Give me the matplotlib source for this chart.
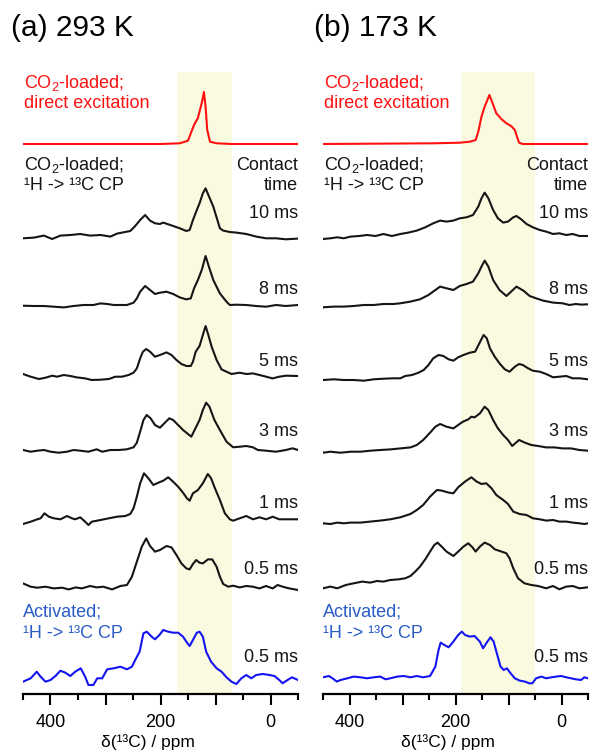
import matplotlib
matplotlib.use('Agg')
import matplotlib.pyplot as plt
import matplotlib.transforms as mtrans

plt.rcParams['font.family'] = ['Liberation Sans', 'DejaVu Sans']
plt.rcParams['mathtext.fontset'] = 'custom'
plt.rcParams['mathtext.rm'] = 'Liberation Sans'
plt.rcParams['mathtext.it'] = 'Liberation Sans:italic'

# ---------------- data: panel (a) 293 K ----------------
a_direct_ppm = [450, 200, 165, 150, 144, 139, 132, 125, 121, 118, 115, 110, 98, 70, -50]
a_direct_int = [0, 0, 0.7, 3.3, 12, 19, 26, 41, 52, 37, 14, 2.3, 0.7, 0, 0]

a_10ms_ppm = [450, 430, 412, 397, 382, 364, 346, 328, 309, 291, 279, 267, 255, 246, 237, 228, 219, 210, 201, 195, 186, 177, 165, 153, 147, 141, 134, 129, 123, 118, 113, 104, 92, 86, 74, 62, 44, 26, 8, -10, -28, -50]
a_10ms_int = [0, 0.7, 2.7, -0.7, 2.7, 3.3, 4.3, 2.7, 3.3, 1.7, 4.7, 6, 7.3, 12.3, 18.3, 23.3, 17.7, 15, 14.3, 15.7, 14, 12.3, 10, 7.3, 8.3, 18.3, 28.3, 35, 45, 50, 43.3, 31.7, 10, 7.7, 6.3, 5.7, 4.3, 1.7, 0, 0, -1, -0.3]

a_8ms_ppm = [450, 430, 412, 394, 376, 358, 340, 322, 309, 297, 285, 273, 261, 249, 243, 237, 228, 219, 210, 201, 189, 177, 165, 153, 145, 139, 132, 125, 118, 112, 104, 92, 80, 74, 62, 44, 26, 8, -10, -28, -50]
a_8ms_int = [0, -0.3, -0.3, -1, -1.7, -0.3, 0.7, 0.7, 2.3, 1.7, 0.7, 0.7, 0.7, 3, 7.3, 14, 19.7, 15.7, 11.7, 13, 14, 11.7, 8.3, 6.3, 7.3, 17.3, 25.7, 35.7, 49.7, 39, 25.7, 12.3, 4, 0.7, 1, 0.7, -0.3, -1, 0.7, -0.3, 0.7]

a_5ms_ppm = [450, 436, 421, 409, 397, 388, 376, 364, 352, 337, 325, 309, 294, 282, 270, 258, 249, 243, 237, 232, 226, 219, 210, 201, 189, 180, 171, 162, 153, 145, 141, 136, 129, 123, 118, 113, 107, 98, 89, 80, 71, 56, 44, 32, 20, 8, -4, -16, -28, -50]
a_5ms_int = [1.7, -1, -3.3, -2, 0, -1, 0.7, -0.3, -1.7, -2.7, -4.3, -4, -3.3, -1, -1, 0.7, 3, 7.3, 17.3, 24, 26.7, 24, 19, 20.7, 23.3, 20.7, 15.7, 11.7, 9.7, 9.7, 14, 24, 29.7, 40.7, 49.7, 40.7, 29, 15.7, 6.3, 4, 1.7, 3, 1.7, 2.3, 0.7, -1, -2.7, -1, 0, -0.3]

a_3ms_ppm = [450, 436, 424, 412, 400, 385, 370, 358, 346, 331, 316, 306, 291, 276, 261, 249, 243, 237, 231, 225, 218, 210, 201, 192, 184, 177, 168, 159, 150, 144, 138, 129, 123, 117, 111, 102, 92, 80, 68, 56, 44, 32, 23, 8, -10, -28, -40, -50]
a_3ms_int = [0, -1.7, -0.7, 0, -1.7, -2.7, -1.7, 0, -0.7, -1.7, 0.7, -1.7, 0, 0, 0.7, 2.7, 7.3, 18.3, 30, 35, 31.7, 25, 22.3, 27.3, 31.7, 30, 25, 20, 16, 13.3, 20, 30, 40, 47.3, 43.3, 30, 20, 8.3, 2.7, 3.3, 4, 2.7, 0, -0.7, -1.7, 0, 1.7, 0]

a_1ms_ppm = [450, 436, 424, 418, 411, 403, 394, 382, 370, 361, 355, 346, 337, 331, 325, 309, 294, 279, 264, 255, 249, 243, 237, 230, 222, 213, 204, 195, 186, 177, 168, 159, 152, 147, 141, 132, 123, 114, 108, 101, 92, 83, 74, 68, 56, 44, 32, 20, 8, -4, -16, -28, -50]
a_1ms_int = [-4, -1.7, 0.7, 1.7, 6.7, 3.3, 1.7, 0.7, 4, 1.7, 0.7, 2.7, -1.7, -5, -1.7, 0, 1.7, 3.3, 4, 6, 11.7, 23.3, 36.7, 46.7, 41.7, 35, 37.3, 39.3, 42.7, 38.3, 33.3, 27.3, 21.7, 19.3, 26.7, 30, 36.7, 46, 41.7, 31.7, 20, 6.7, 0.7, -0.7, 1.7, 4, 0.7, 2.7, 0.7, 3.3, 0.7, 0.7, 0.7]

a_05ms_ppm = [450, 436, 424, 409, 394, 379, 367, 354, 343, 328, 316, 304, 288, 273, 261, 252, 243, 234, 226, 219, 210, 201, 189, 180, 171, 162, 153, 147, 141, 135, 129, 123, 114, 106, 98, 92, 86, 77, 68, 56, 44, 32, 20, 8, -4, -13, -22, -34, -50]
a_05ms_int = [3.3, 0, -1, 0, -1.7, -1, -2.7, -0.7, -1.7, 0.7, -0.7, 0, -2.7, 0.7, 1.7, 10, 25, 40, 48.3, 40.7, 35, 36.7, 40.7, 39.3, 31.7, 23.3, 18.3, 17.3, 22.7, 26.7, 24, 23.3, 27.3, 27.3, 20, 10, 2.7, 0, 1, -0.7, 0.7, 0, -1.7, 0.7, -1.7, 1.7, 0, -1.7, -3.3]

a_act_ppm = [450, 436, 425, 418, 409, 400, 391, 382, 373, 364, 355, 345, 337, 331, 322, 315, 306, 297, 285, 273, 261, 252, 246, 238, 231, 225, 216, 210, 202, 195, 186, 177, 168, 159, 153, 147, 141, 134, 129, 123, 117, 108, 98, 89, 80, 71, 62, 53, 44, 35, 26, 14, 2, -7, -16, -22, -31, -39, -50]
a_act_int = [-1.7, 1.7, 8.3, 3.3, -1.7, 0, 4, 9.3, 7.3, 4, 8.3, 11.7, 3.3, -5, -5, 1.7, 1.7, 10.7, 11.7, 13.3, 10.7, 13.3, 20, 28.3, 46.7, 48.3, 43.3, 40.7, 45, 50, 48.3, 47.3, 47.3, 43.3, 38.3, 34, 40, 47.3, 48.3, 43.3, 28.3, 18.3, 11.7, 8.3, 2.7, -1.7, -4, 1.7, 5, 1.7, 5, 6, 5, 4, 0, -3.3, 0, 2.7, 0]

# ---------------- data: panel (b) 173 K ----------------
b_direct_ppm = [450, 242, 192, 173, 162, 157, 151, 145, 136, 130, 123, 113, 104, 95, 88, 84, 80, 73, 54, -50]
b_direct_int = [0, 0.7, 1.3, 2.3, 4, 12.3, 27.3, 37.3, 49, 40.7, 30.7, 24.7, 20.7, 18, 14, 7.3, 1.3, 0, 0, 0]

b_10ms_ppm = [450, 436, 423, 411, 398, 382, 367, 351, 336, 320, 304, 289, 273, 257, 242, 229, 217, 204, 192, 179, 167, 157, 151, 145, 138, 129, 120, 110, 101, 91, 85, 76, 66, 54, 41, 29, 16, 4, -9, -21, -34, -50]
b_10ms_int = [-0.7, 0, 1, 0, 1.7, 2.3, 3.3, 2.3, 4.3, 2.3, 4.3, 5.7, 7.7, 11, 15, 17.7, 16.7, 17.7, 20, 21, 23.3, 31.7, 40, 45.7, 40, 28.3, 20, 15.7, 16.7, 21, 22.3, 19, 14.3, 11, 8.3, 6.7, 4.3, 5, 3.3, 4.3, 2.3, 2.3]

b_8ms_ppm = [450, 429, 411, 392, 373, 354, 336, 317, 304, 285, 267, 251, 238, 229, 217, 204, 192, 179, 167, 157, 151, 145, 138, 129, 117, 104, 95, 85, 72, 60, 48, 35, 16, -2, -15, -27, -37, -50]
b_8ms_int = [0, 0.7, 0.7, 1.3, 2.3, 2.3, 3.3, 3.3, 4, 5.7, 8, 12.3, 17.3, 20.7, 19, 17.3, 21.3, 23.3, 25.7, 34, 40.7, 46.7, 40.7, 27.3, 17.3, 11.3, 15.7, 20.7, 16.7, 11.3, 9, 6.7, 4.7, 4, 2.3, 3.3, 2.7, 3]

b_5ms_ppm = [450, 429, 411, 392, 373, 354, 336, 317, 304, 295, 282, 270, 260, 251, 242, 232, 223, 213, 204, 195, 185, 173, 163, 155, 147, 141, 135, 126, 116, 107, 98, 88, 80, 73, 63, 54, 41, 29, 16, 4, -9, -21, -34, -50]
b_5ms_int = [0, 0.7, 0, 0, -0.7, 0.7, 1.3, 1.7, 1.7, 4, 5, 7.3, 10, 15, 21.7, 25, 24, 20.7, 19.3, 22.7, 25, 27.3, 28.3, 36.7, 45, 41.7, 31.7, 23.3, 16, 10.7, 8.3, 13.3, 16, 15, 11.7, 9.3, 8.3, 6, 2.7, 3.3, 4, 1.7, 1.7, 0.7]

b_3ms_ppm = [450, 436, 417, 398, 379, 361, 342, 323, 304, 285, 273, 261, 248, 238, 229, 217, 204, 195, 186, 176, 170, 164, 154, 145, 138, 129, 120, 110, 101, 93, 86, 80, 69, 57, 44, 29, 13, -2, -18, -34, -50]
b_3ms_int = [0, 1, 0, 1, 1, 2, 2.7, 3.3, 4.3, 5.3, 7.7, 12.7, 20, 26, 28.7, 26, 24.3, 27.7, 31, 33.3, 36, 35.3, 39.3, 46, 42.7, 32.7, 24.3, 17.7, 12.7, 6.7, 10, 12.7, 10, 7.7, 6.7, 5.3, 5.3, 4.3, 4.3, 2.7, 2]

b_1ms_ppm = [450, 436, 423, 411, 398, 379, 361, 342, 323, 304, 285, 273, 261, 248, 235, 226, 213, 204, 195, 182, 170, 160, 151, 142, 132, 123, 110, 101, 91, 79, 66, 54, 41, 29, 16, 4, -9, -21, -34, -43, -50]
b_1ms_int = [0, -0.7, 0.7, 0, 0.7, 0.7, 1.7, 2.7, 4, 6, 9.3, 13.3, 18.3, 26.7, 33.3, 32.7, 30.7, 30, 36, 41.7, 46, 41.7, 39.3, 40, 35, 28.3, 23.3, 19.3, 11.7, 9.3, 8.3, 5, 4, 2.7, 3.3, 1.7, 1.7, 0.7, 0, -0.7, 0]

b_05ms_ppm = [450, 436, 423, 407, 392, 376, 361, 348, 336, 323, 307, 295, 285, 276, 267, 257, 248, 240, 234, 226, 217, 204, 195, 185, 176, 168, 162, 154, 145, 135, 126, 113, 104, 98, 91, 82, 70, 57, 44, 29, 16, 4, -9, -21, -34, -50]
b_05ms_int = [0, 1.7, 0, 3.3, 5, 6.7, 5.7, 7.3, 6.7, 8.3, 9, 10, 12.3, 16.7, 21.7, 29, 36.7, 43.3, 45.7, 41.7, 36.7, 32.3, 36.7, 41.7, 45, 41, 36.7, 41.7, 45.7, 43.3, 39, 36.7, 35, 30, 20, 10, 5, 3.3, 2.3, 0, 2.3, -1, 1.7, 2.3, 0, 1]

b_act_ppm = [450, 439, 432, 424, 417, 404, 392, 379, 367, 354, 342, 332, 323, 310, 298, 285, 273, 261, 248, 238, 232, 228, 221, 213, 204, 195, 188, 182, 173, 164, 154, 148, 142, 134, 128, 122, 115, 109, 103, 96, 88, 79, 69, 61, 55, 48, 38, 29, 19, 10, 1, -9, -18, -27, -37, -43, -50]
b_act_int = [1, 2.3, 0, -3.3, -1.7, 0, 1.7, 1, 0, 1, 1.7, -1, 0, 1.7, 2.3, 1, 2.3, 1, 2.3, 11.7, 28.3, 35.7, 33.3, 31, 36.7, 43.3, 46.7, 43.3, 41.7, 42.3, 36.7, 30, 35, 41, 36.7, 25, 11.7, 8.3, 10, 5, 0, -2.3, -3.3, -5, -5, 0, 1.7, 0, 1, 1.7, 2.3, 1, 0, -1, -1.7, 1, 0]

contact_labels = ['10 ms', '8 ms', '5 ms', '3 ms', '1 ms', '0.5 ms']
activated_label = '0.5 ms'
titles = ['(a) 293 K', '(b) 173 K']
shade_ranges = [(170, 70), (190, 50)]

# ---------------- layout / style ----------------
W, H = 590, 754
RED = '#ff1010'
BLUE_LINE = '#1414f0'
BLUE_TEXT = '#2a5cc8'
BLACK = '#151515'
SHADE = '#fafae1'

fig = plt.figure(figsize=(W / 100, H / 100), dpi=100)


def axes_px(x0, x1, ytop, ybot):
    return fig.add_axes([x0 / W, 1 - ybot / H, (x1 - x0) / W, (ybot - ytop) / H])


panels = [
    dict(ax=axes_px(23, 298, 72, 694),
         direct=(a_direct_ppm, a_direct_int),
         cp=[(a_10ms_ppm, a_10ms_int), (a_8ms_ppm, a_8ms_int), (a_5ms_ppm, a_5ms_int),
             (a_3ms_ppm, a_3ms_int), (a_1ms_ppm, a_1ms_int), (a_05ms_ppm, a_05ms_int)],
         act=(a_act_ppm, a_act_int),
         offs=[550, 455.7, 388.3, 318.3, 244, 174, 107.3, 14],
         title_x=11, xlab_x=0.455),
    dict(ax=axes_px(323, 588, 72, 694),
         direct=(b_direct_ppm, b_direct_int),
         cp=[(b_10ms_ppm, b_10ms_int), (b_8ms_ppm, b_8ms_int), (b_5ms_ppm, b_5ms_int),
             (b_3ms_ppm, b_3ms_int), (b_1ms_ppm, b_1ms_int), (b_05ms_ppm, b_05ms_int)],
         act=(b_act_ppm, b_act_int),
         offs=[550, 455.7, 386.7, 314, 241.3, 170.7, 105.7, 15.7],
         title_x=314, xlab_x=0.47),
]

label_y = [480, 405, 333, 262, 190, 125]
LW = 1.5
FS = 13

for i, p in enumerate(panels):
    ax = p['ax']
    offs = p['offs']
    ax.set_xlim(450, -50)
    ax.set_ylim(0, 622)
    lo, hi = shade_ranges[i]
    ax.axvspan(lo, hi, color=SHADE, zorder=0, lw=0)

    x, y = p['direct']
    ax.plot(x, [v + offs[0] for v in y], color=RED, lw=LW, zorder=3)
    for k, (x, y) in enumerate(p['cp']):
        ax.plot(x, [v + offs[k + 1] for v in y], color=BLACK, lw=LW, zorder=3)
    x, y = p['act']
    ax.plot(x, [v + offs[7] for v in y], color=BLUE_LINE, lw=LW, zorder=3)

    tr = mtrans.blended_transform_factory(ax.transAxes, ax.transData)
    co2 = r'CO$_{\mathregular{2}}$-loaded;'
    ax.text(0.005, 611, co2, color=RED, fontsize=FS, ha='left', va='center', transform=tr)
    ax.text(0.005, 591, 'direct excitation', color=RED, fontsize=FS, ha='left', va='center', transform=tr)
    ax.text(0.005, 529, co2, color=BLACK, fontsize=FS, ha='left', va='center', transform=tr)
    ax.text(0.005, 509, '¹H -> ¹³C CP', color=BLACK, fontsize=FS, ha='left', va='center', transform=tr)
    ax.text(1.0, 529, 'Contact', color=BLACK, fontsize=FS, ha='right', va='center', transform=tr)
    ax.text(1.0, 509, 'time', color=BLACK, fontsize=FS, ha='right', va='center', transform=tr)
    for lab, ly in zip(contact_labels, label_y):
        ax.text(1.0, ly, lab, color=BLACK, fontsize=FS, ha='right', va='center', transform=tr)
    ax.text(1.0, 37, activated_label, color=BLACK, fontsize=FS, ha='right', va='center', transform=tr)
    ax.text(0.0, 82, 'Activated;', color=BLUE_TEXT, fontsize=FS, ha='left', va='center', transform=tr)
    ax.text(0.0, 61, '¹H -> ¹³C CP', color=BLUE_TEXT, fontsize=FS, ha='left', va='center', transform=tr)

    for s in ['left', 'right', 'top']:
        ax.spines[s].set_visible(False)
    ax.spines['bottom'].set_linewidth(1.6)
    ax.set_yticks([])
    ax.set_xticks([400, 300, 200, 100, 0])
    ax.set_xticklabels(['400', '', '200', '', '0'])
    ax.set_xticks([450, 350, 250, 150, 50, -50], minor=True)
    ax.tick_params(axis='x', which='major', direction='out', length=8, width=1.5,
                   labelsize=FS, pad=6.5)
    ax.tick_params(axis='x', which='minor', direction='out', length=4.5, width=1.5)
    ax.set_xlabel('δ(¹³C) / ppm', fontsize=12.5, va='center')
    ax.xaxis.set_label_coords(p['xlab_x'], -48 / 622)
    ax.patch.set_alpha(0)

    fig.text(p['title_x'] / W, 1 - 28 / H, titles[i], fontsize=21.5, ha='left', va='center')

fig.savefig('out.png', dpi=100)
